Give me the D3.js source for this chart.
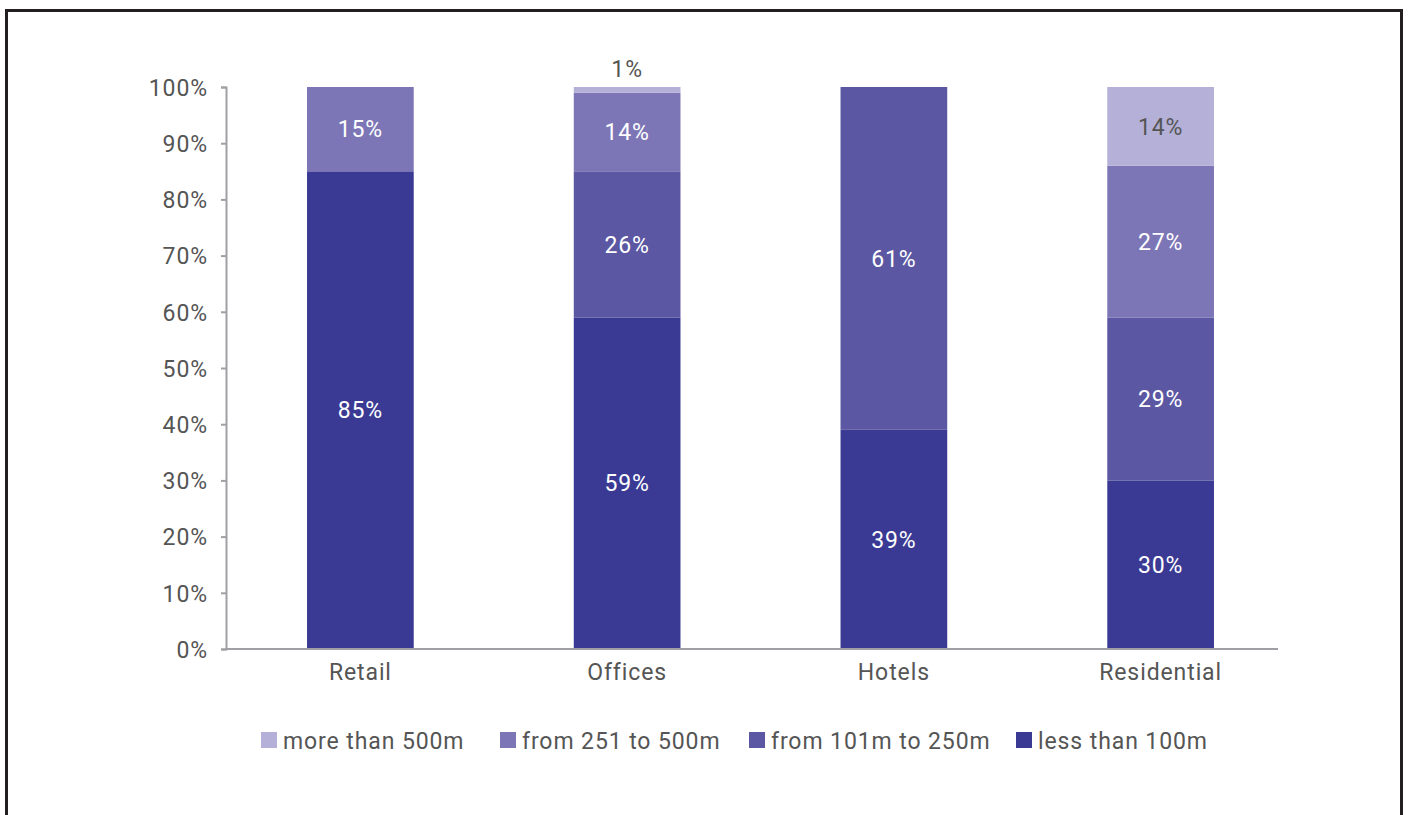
<!DOCTYPE html>
<html>
<head>
<meta charset="utf-8">
<script src="https://cdn.jsdelivr.net/npm/d3@7"></script>
<style>
  html, body { margin: 0; padding: 0; background: #fff; }
  svg { display: block; }
  text { font-family: Roboto, "DejaVu Sans", sans-serif; letter-spacing: 0.9px; }
</style>
</head>
<body>
<svg id="chart" width="1408" height="815"></svg>
<script>
// Distance bands, listed from top of the stack to the bottom
const categories = ["Retail", "Offices", "Hotels", "Residential"];
const seriesNames = ["more than 500m", "from 251 to 500m", "from 101m to 250m", "less than 100m"];
const moreThan500 = [0, 1, 0, 14];
const from251to500 = [15, 14, 0, 27];
const from101to250 = [0, 26, 61, 29];
const lessThan100 = [85, 59, 39, 30];
const yTicks = [0, 10, 20, 30, 40, 50, 60, 70, 80, 90, 100];
const colors = ["#b4b0d8", "#7d76b6", "#5b57a3", "#3a3a94"];
const labelColors = ["#555555", "#ffffff", "#ffffff", "#ffffff"];

const seriesValues = [moreThan500, from251to500, from101to250, lessThan100];
const FONT_SIZE = 23;

const svg = d3.select("#chart");

// outer frame (open at the bottom edge of the page)
svg.append("path")
  .attr("d", "M6.5,830 V10.5 H1401.5 V830")
  .attr("fill", "none")
  .attr("stroke", "#231f20")
  .attr("stroke-width", 3);

const y = d3.scaleLinear().domain([0, 100]).range([649, 87]);
const x = d3.scaleBand().domain(categories).range([227, 1294])
  .paddingInner(0.6).paddingOuter(0.3);

// stacked from the bottom: less than 100m first
const rows = categories.map((c, i) => {
  const r = { category: c };
  seriesNames.forEach((s, j) => { r[s] = seriesValues[j][i]; });
  return r;
});
const stackOrder = seriesNames.slice().reverse();
const stacked = d3.stack().keys(stackOrder)(rows);

const g = svg.append("g");
stacked.forEach(layer => {
  const si = seriesNames.indexOf(layer.key);
  g.selectAll(null).data(layer.filter(d => d[1] - d[0] > 0)).enter()
    .append("rect")
    .attr("x", d => x(d.data.category))
    .attr("width", x.bandwidth())
    .attr("y", d => y(d[1]))
    .attr("height", d => y(d[0]) - y(d[1]))
    .attr("fill", colors[si]);
});

// value labels
stacked.forEach(layer => {
  const si = seriesNames.indexOf(layer.key);
  layer.forEach(d => {
    const v = d[1] - d[0];
    if (v <= 0) return;
    const cx = x(d.data.category) + x.bandwidth() / 2;
    const small = v < 3;
    svg.append("text")
      .attr("x", cx)
      .attr("y", small ? y(d[1]) - 10 : y((d[0] + d[1]) / 2))
      .attr("dy", small ? 0 : "0.36em")
      .attr("text-anchor", "middle")
      .attr("font-size", FONT_SIZE)
      .attr("fill", small ? "#555555" : labelColors[si])
      .text(v + "%");
  });
});

// y axis
const yAxis = d3.axisLeft(y).tickValues(yTicks).tickFormat(d => d + "%")
  .tickSizeOuter(0).tickSize(5).tickPadding(13);
const ya = svg.append("g").attr("transform", "translate(226,0)").call(yAxis);
ya.select(".domain").attr("stroke", "#a0a0a4").attr("stroke-width", 2);
ya.selectAll(".tick line").attr("stroke", "#a0a0a4").attr("stroke-width", 2);
ya.selectAll(".tick text").attr("font-size", FONT_SIZE).attr("fill", "#555555")
  .attr("dy", "0.36em")
  .attr("font-family", "Roboto, 'DejaVu Sans', sans-serif");

// x axis line
svg.append("line")
  .attr("x1", 225).attr("x2", 1278)
  .attr("y1", y(0)).attr("y2", y(0))
  .attr("stroke", "#a0a0a4").attr("stroke-width", 2);

// category labels
svg.selectAll(null).data(categories).enter()
  .append("text")
  .attr("x", d => x(d) + x.bandwidth() / 2)
  .attr("y", 680)
  .attr("text-anchor", "middle")
  .attr("font-size", FONT_SIZE)
  .attr("fill", "#555555")
  .text(d => d);

// legend
const legendX = [261, 500, 749, 1016];
const legend = svg.selectAll(null).data(seriesNames).enter()
  .append("g")
  .attr("transform", (d, i) => `translate(${legendX[i]},732)`);
legend.append("rect")
  .attr("width", 16).attr("height", 16)
  .attr("fill", (d, i) => colors[i]);
legend.append("text")
  .attr("x", 22).attr("y", 17)
  .attr("font-size", FONT_SIZE)
  .attr("fill", "#555555")
  .text(d => d);
</script>
</body>
</html>
